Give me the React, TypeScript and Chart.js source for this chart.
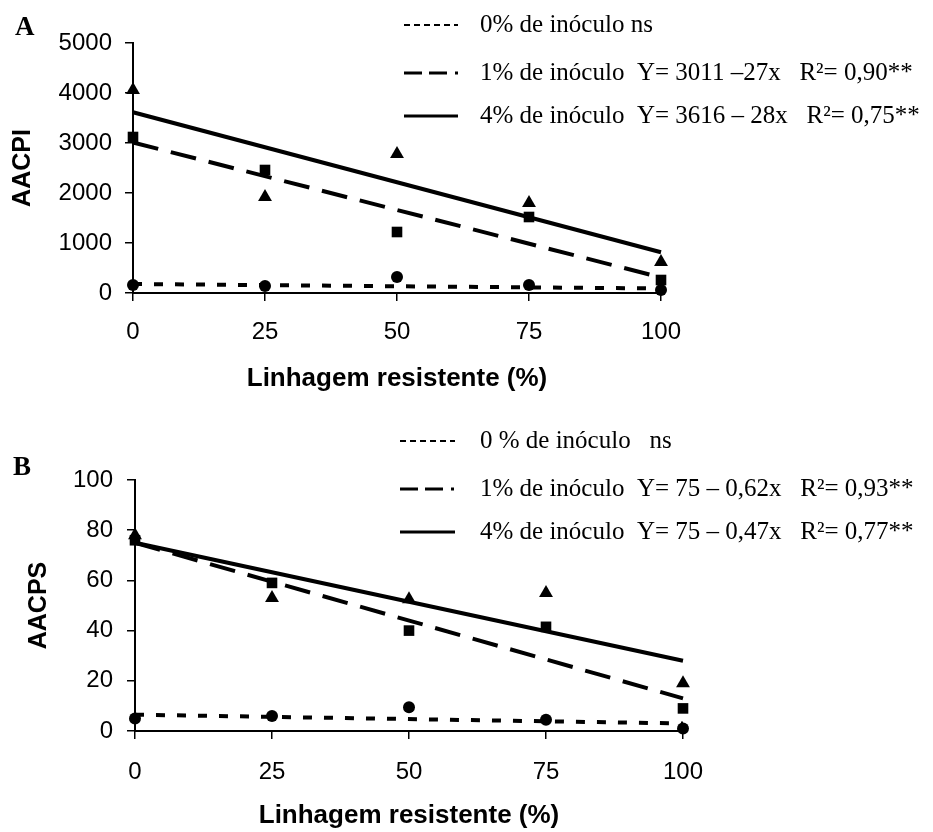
import React, { useEffect, useRef } from "react";
import { Chart, registerables } from "chart.js";

Chart.register(...registerables);

// ---------- shared ----------
const xValues = [0, 25, 50, 75, 100];
const xTickLabels = ["0", "25", "50", "75", "100"];
const fitX = [0, 100];
const xTitle = "Linhagem resistente (%)";

// ---------- Panel A : AACPI ----------
const aacpi0 = [160, 140, 320, 160, 60];
const aacpi1 = [3120, 2460, 1220, 1520, 260];
const aacpi4 = [4060, 1920, 2780, 1800, 620];
const aacpiFit0 = [180, 90];
const aacpiFit1 = [3011, 311];
const aacpiFit4 = [3616, 816];
const aacpiYMax = 5000;
const aacpiYStep = 1000;
const aacpiLegend = [
  "0% de inóculo ns",
  "1% de inóculo  Y= 3011 \u201327x   R\u00B2= 0,90**",
  "4% de inóculo  Y= 3616 \u2013 28x   R\u00B2= 0,75**",
];

// ---------- Panel B : AACPS ----------
const aacps0 = [5, 6, 9.5, 4.5, 1];
const aacps1 = [76, 59, 40, 41.5, 9];
const aacps4 = [78, 53, 52.5, 55, 19];
const aacpsFit0 = [6.5, 3];
const aacpsFit1 = [75, 13];
const aacpsFit4 = [75, 28];
const aacpsYMax = 100;
const aacpsYStep = 20;
const aacpsLegend = [
  "0 % de inóculo   ns",
  "1% de inóculo  Y= 75 \u2013 0,62x   R\u00B2= 0,93**",
  "4% de inóculo  Y= 75 \u2013 0,47x   R\u00B2= 0,77**",
];

const SANS = "Arial, 'Liberation Sans', sans-serif";
const SERIF = "'Times New Roman', 'Liberation Serif', serif";

const DOT_DASH = [9, 12];
const LONG_DASH = [26, 13];

type PanelCfg = {
  width: number;
  height: number;
  top: number;
  area: { left: number; right: number; top: number; bottom: number };
  yTitle: string;
  yTitlePad: number;
  yTickPad: number;
  xTickPad: number;
  xTitlePad: number;
  yMax: number;
  yStep: number;
  s0: number[];
  s1: number[];
  s4: number[];
  f0: number[];
  f1: number[];
  f4: number[];
  letter: string;
  letterPos: [number, number];
  legend: string[];
  legendYs: number[];
  sampleX: [number, number];
  textX: number;
};

function pts(xs: number[], ys: number[]) {
  return xs.map((x, i) => ({ x, y: ys[i] }));
}

function buildChart(canvas: HTMLCanvasElement, c: PanelCfg) {
  const overlay = {
    id: "overlay" + c.letter,
    afterDraw(chart: any) {
      const ctx = chart.ctx as CanvasRenderingContext2D;
      ctx.save();
      ctx.fillStyle = "#000";
      ctx.strokeStyle = "#000";
      ctx.textBaseline = "middle";
      ctx.textAlign = "left";
      ctx.font = `bold 27px ${SERIF}`;
      ctx.fillText(c.letter, c.letterPos[0], c.letterPos[1]);
      const dashes = [[6, 4], [18, 7, 18, 8, 3, 60], []];
      ctx.font = `25px ${SERIF}`;
      c.legend.forEach((t, i) => {
        const y = c.legendYs[i];
        ctx.setLineDash(dashes[i]);
        ctx.lineWidth = i === 0 ? 2 : 3;
        ctx.beginPath();
        ctx.moveTo(c.sampleX[0], y);
        ctx.lineTo(c.sampleX[1], y);
        ctx.stroke();
        ctx.setLineDash([]);
        ctx.fillText(t, c.textX, y);
      });
      ctx.restore();
    },
  };

  const pointBase = {
    showLine: false,
    backgroundColor: "#000",
    borderColor: "#000",
    borderWidth: 0,
    clip: false as any,
  };
  const lineBase = {
    showLine: true,
    pointRadius: 0,
    pointHoverRadius: 0,
    borderColor: "#000",
    backgroundColor: "#000",
    borderWidth: 4,
    fill: false,
    clip: false as any,
  };

  return new Chart(canvas, {
    type: "scatter",
    data: {
      datasets: [
        { ...pointBase, label: "4% pts", data: pts(xValues, c.s4), pointStyle: "triangle", pointRadius: 8 },
        { ...pointBase, label: "1% pts", data: pts(xValues, c.s1), pointStyle: "rect", pointRadius: 7.5 },
        { ...pointBase, label: "0% pts", data: pts(xValues, c.s0), pointStyle: "circle", pointRadius: 6 },
        { ...lineBase, label: "4% fit", data: pts(fitX, c.f4) },
        { ...lineBase, label: "1% fit", data: pts(fitX, c.f1), borderDash: LONG_DASH },
        { ...lineBase, label: "0% fit", data: pts(fitX, c.f0), borderDash: DOT_DASH, borderWidth: 4 },
      ],
    },
    options: {
      responsive: false,
      animation: false,
      devicePixelRatio: 1,
      layout: {
        padding: {
          left: 0,
          right: c.width - c.area.right,
          top: c.area.top,
          bottom: 0,
        },
      },
      plugins: {
        legend: { display: false },
        tooltip: { enabled: false },
        title: { display: false },
      },
      scales: {
        x: {
          type: "linear",
          min: 0,
          max: 100,
          afterFit(scale: any) {
            scale.height = c.height - c.area.bottom;
          },
          afterBuildTicks(scale: any) {
            scale.ticks = xValues.map((v) => ({ value: v }));
          },
          ticks: {
            stepSize: 25,
            color: "#000",
            padding: c.xTickPad,
            font: { family: SANS, size: 24 },
            maxRotation: 0,
            callback: (v: any) => {
              const i = xValues.indexOf(Number(v));
              return i >= 0 ? xTickLabels[i] : "";
            },
          },
          grid: {
            display: true,
            drawOnChartArea: false,
            drawTicks: true,
            tickLength: 8,
            color: "#000",
            lineWidth: 1.5,
          },
          border: { display: true, color: "#000", width: 2 },
          title: {
            display: true,
            text: xTitle,
            color: "#000",
            font: { family: SANS, size: 26, weight: "bold" },
            padding: { top: 0, bottom: c.xTitlePad },
          },
        },
        y: {
          type: "linear",
          min: 0,
          max: c.yMax,
          afterFit(scale: any) {
            scale.width = c.area.left;
          },
          ticks: {
            stepSize: c.yStep,
            color: "#000",
            padding: c.yTickPad,
            font: { family: SANS, size: 24 },
            callback: (v: any) => String(v),
          },
          grid: {
            display: true,
            drawOnChartArea: false,
            drawTicks: true,
            tickLength: 8,
            color: "#000",
            lineWidth: 1.5,
          },
          border: { display: true, color: "#000", width: 2 },
          title: {
            display: true,
            text: c.yTitle,
            color: "#000",
            font: { family: SANS, size: 25, weight: "bold" },
            padding: { top: c.yTitlePad, bottom: 0 },
          },
        },
      },
    },
    plugins: [overlay],
  } as any);
}

const panelA: PanelCfg = {
  width: 933,
  height: 400,
  top: 0,
  area: { left: 133, right: 661, top: 43, bottom: 293 },
  yTitle: "AACPI",
  yTitlePad: 8,
  yTickPad: 13,
  xTickPad: 17,
  xTitlePad: 6,
  yMax: aacpiYMax,
  yStep: aacpiYStep,
  s0: aacpi0,
  s1: aacpi1,
  s4: aacpi4,
  f0: aacpiFit0,
  f1: aacpiFit1,
  f4: aacpiFit4,
  letter: "A",
  letterPos: [15, 28],
  legend: aacpiLegend,
  legendYs: [25, 73, 116],
  sampleX: [404, 458],
  textX: 480,
};

const panelB: PanelCfg = {
  width: 933,
  height: 432,
  top: 400,
  area: { left: 135, right: 683, top: 80, bottom: 331 },
  yTitle: "AACPS",
  yTitlePad: 24,
  yTickPad: 14,
  xTickPad: 19,
  xTitlePad: 1,
  yMax: aacpsYMax,
  yStep: aacpsYStep,
  s0: aacps0,
  s1: aacps1,
  s4: aacps4,
  f0: aacpsFit0,
  f1: aacpsFit1,
  f4: aacpsFit4,
  letter: "B",
  letterPos: [13, 68],
  legend: aacpsLegend,
  legendYs: [41, 89, 132],
  sampleX: [400, 455],
  textX: 480,
};

function Panel({ cfg }: { cfg: PanelCfg }) {
  const ref = useRef<HTMLCanvasElement | null>(null);
  useEffect(() => {
    if (!ref.current) return;
    const chart = buildChart(ref.current, cfg);
    return () => chart.destroy();
  }, [cfg]);
  return (
    <canvas
      ref={ref}
      width={cfg.width}
      height={cfg.height}
      style={{
        position: "absolute",
        left: 0,
        top: cfg.top,
        width: cfg.width,
        height: cfg.height,
      }}
    />
  );
}

export default function App() {
  return (
    <div
      style={{
        position: "absolute",
        left: 0,
        top: 0,
        width: 933,
        height: 832,
        background: "#fff",
        overflow: "hidden",
      }}
    >
      <Panel cfg={panelA} />
      <Panel cfg={panelB} />
    </div>
  );
}
